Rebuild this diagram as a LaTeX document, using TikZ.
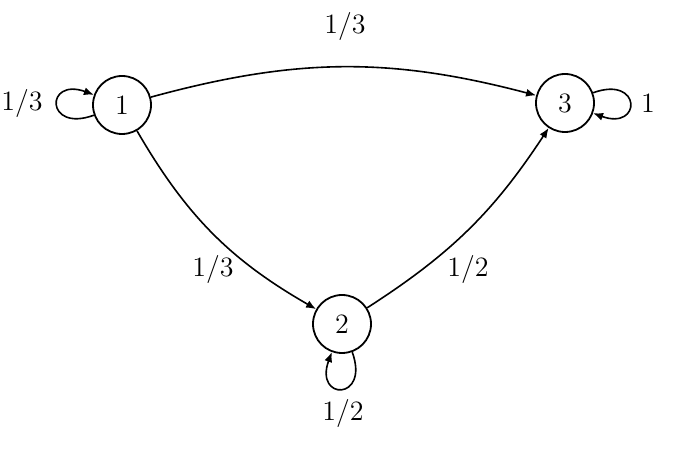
\documentclass[tikz,border=0pt]{standalone}
\usetikzlibrary{arrows.meta}
\begin{document}
\begin{tikzpicture}[x=0.5pt,y=0.5pt,
  state/.style={circle,draw,line width=0.9pt,minimum size=29pt,inner sep=0pt,font=\fontsize{14}{17}\selectfont},
  lab/.style={font=\fontsize{14}{17}\selectfont},
  arr/.style={-{Latex[length=5pt,width=4pt]},line width=0.8pt}]
\useasboundingbox (0,0) rectangle (700,449);
\node[state] (n1) at (122,344) {1};
\node[state] (n2) at (342,125) {2};
\node[state] (n3) at (565,346) {3};
\draw[arr] (n1) to[bend left=15] (n3);
\draw[arr] (n1) to[bend right=15] (n2);
\draw[arr] (n2) to[bend right=12] (n3);
\draw[arr] (n1) to[out=200,in=160,distance=26pt] (n1);
\draw[arr] (n3) to[out=20,in=-20,distance=26pt] (n3);
\draw[arr] (n2) to[out=-70,in=-110,distance=26pt] (n2);
\node[lab] (l13) at (345,422) {1/3};
\node[lab] (l11) at (22,345) {1/3};
\node[lab] (l33) at (648,346) {1};
\node[lab] (l12) at (213,179) {1/3};
\node[lab] (l23) at (468,179) {1/2};
\node[lab] (l22) at (343,36) {1/2};
\end{tikzpicture}
\end{document}
